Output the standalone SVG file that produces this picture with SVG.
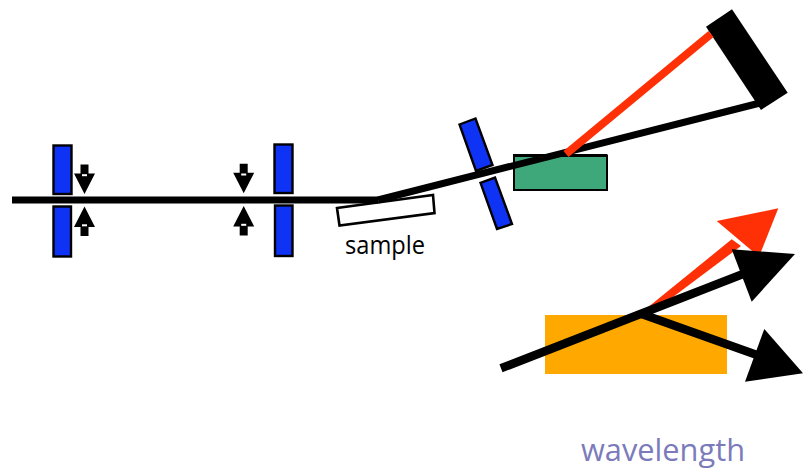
<svg xmlns="http://www.w3.org/2000/svg" width="803" height="470" viewBox="0 0 803 470">
<style>
.blue{fill:#0f33f5;stroke:#000;stroke-width:2.400}
.beam{fill:none;stroke:#000;stroke-width:7}
.thick{fill:none;stroke:#000;stroke-width:8.500}
.red{fill:none;stroke:#ff3005;stroke-width:8}
.t{font-family:"Open Sans","DejaVu Sans",sans-serif}
</style>
<defs>
<g id="adj"><path d="M-4-29.500H4V-20.500H10.500L0,0L-10.500-20.500H-4Z" fill="#000"/><rect x="-2.500" y="-19.800" width="5" height="2" fill="#fff"/></g>
</defs>
<rect width="803" height="470" fill="#fff"/>
<g id="slit-1-top"><rect class="blue" x="53.500" y="145.500" width="18" height="48.500"/></g>
<g id="slit-1-bottom"><rect class="blue" x="53.500" y="206.500" width="17.500" height="50"/></g>
<g id="slit-2-top"><rect class="blue" x="274.500" y="144.500" width="18" height="48.500"/></g>
<g id="slit-2-bottom"><rect class="blue" x="275" y="205.500" width="17.500" height="50.500"/></g>
<g id="adjust-1-down"><use href="#adj" transform="translate(84.500,194)"/></g>
<g id="adjust-1-up"><use href="#adj" transform="translate(84.500,206.500) scale(1,-1)"/></g>
<g id="adjust-2-down"><use href="#adj" transform="translate(243.700,193.300)"/></g>
<g id="adjust-2-up"><use href="#adj" transform="translate(243.700,206) scale(1,-1)"/></g>
<g id="sample"><polygon points="337,208 433,195 434.500,213 339.500,225.500" fill="#fff" stroke="#000" stroke-width="2.600"/><text class="t" x="345" y="253.500" font-size="26" font-weight="500" textLength="80" lengthAdjust="spacingAndGlyphs" fill="#000">sample</text></g>
<g id="analyzer-slit-top"><polygon class="blue" points="459.500,124.500 475.500,118.500 492.500,165 476,171"/></g>
<g id="analyzer-slit-bottom"><polygon class="blue" points="480.500,182.800 495,177.500 512,224 497,229"/></g>
<g id="crystal"><rect x="514" y="155.500" width="93" height="34.500" fill="#3fa87a" stroke="#000" stroke-width="2"/><path d="M513 155.500H607" stroke="#000" stroke-width="3"/></g>
<g id="detector"><polygon points="706,26.700 732,9.300 787.700,92.700 761,110" fill="#000"/></g>
<g id="crystal-2"><rect x="545" y="315" width="182" height="59" fill="#ffa900"/></g>
<g id="connectors">
<path class="beam" d="M12 200H378"/>
<path class="beam" d="M378 200L760 103"/>
<path class="red" d="M566 154L711 34"/>
<polygon points="646.700,308.300 731.700,239.300 741,246 646.700,316.700" fill="#ff3005"/><polygon points="716.700,221 778.300,208.300 759,256.700" fill="#ff3005"/>
<path class="thick" d="M501 368.300L743 274"/><polygon points="731.700,249.300 795,254 751.700,301.700" fill="#000"/>
<path class="thick" d="M641.700 314L757 355"/><polygon points="764.300,329 803,373.300 745,381.700" fill="#000"/>
</g>
<g id="label-wavelength"><text class="t" x="581" y="461" font-size="31" font-weight="500" textLength="164" lengthAdjust="spacingAndGlyphs" fill="#7b7bbb">wavelength</text></g>
</svg>
